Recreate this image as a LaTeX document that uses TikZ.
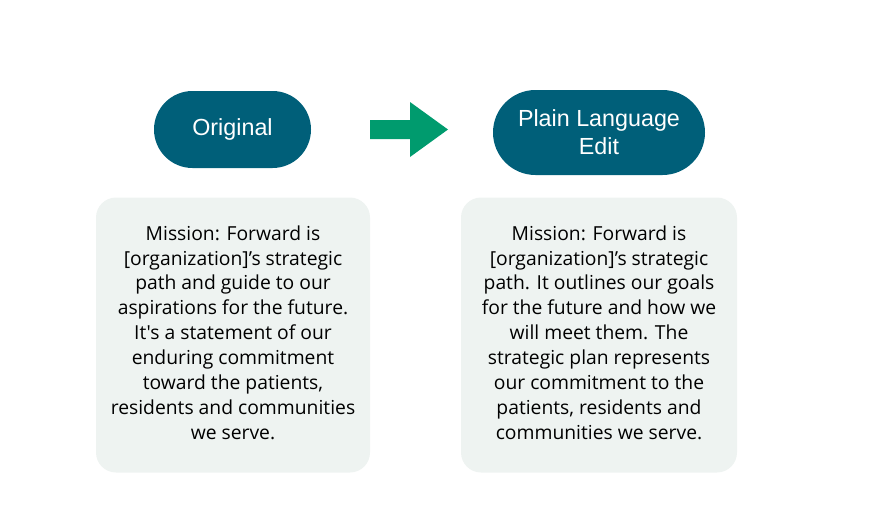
\documentclass[tikz,border=0pt]{standalone}
\usepackage{fontspec}
\newfontfamily\bodyfont{Open Sans}
\newfontfamily\pillfont{Liberation Sans}
\usetikzlibrary{shapes.misc}
\definecolor{pillblue}{RGB}{0,95,121}
\definecolor{arrowgreen}{RGB}{0,155,110}
\definecolor{boxfill}{RGB}{238,243,241}
\begin{document}
\begin{tikzpicture}[x=1pt,y=-1pt,
  pill/.style={rounded rectangle, fill=pillblue, text=white, font=\pillfont\fontsize{23.3}{28}\selectfont, align=center, inner sep=0pt},
  textbox/.style={rounded corners=20pt, fill=boxfill, font=\bodyfont\fontsize{19.3}{24.9}\selectfont, align=center, inner sep=0pt}]
\useasboundingbox (0,0) rectangle (875,525);
\node[pill, minimum width=157pt, minimum height=77pt] (orig) at (232.5,129.5) {Original};
\node[pill, minimum width=212pt, minimum height=85pt] (plain) at (599,132.5) {Plain Language\\Edit};
\fill[arrowgreen] (370,120) -- (410,120) -- (410,102) -- (448,129.5) -- (410,157) -- (410,139) -- (370,139) -- cycle;
\node[textbox, minimum width=274pt, minimum height=275pt] (b1) at (233,335) {Mission: Forward is\\{}[organization]’s strategic\\path and guide to our\\aspirations for the future.\\It's a statement of our\\enduring commitment\\toward the patients,\\residents and communities\\we serve.\vspace{5pt}};
\node[textbox, minimum width=276pt, minimum height=275pt] (b2) at (599,335) {Mission: Forward is\\{}[organization]’s strategic\\path. It outlines our goals\\for the future and how we\\will meet them. The\\strategic plan represents\\our commitment to the\\patients, residents and\\communities we serve.\vspace{5pt}};
\end{tikzpicture}
\end{document}
